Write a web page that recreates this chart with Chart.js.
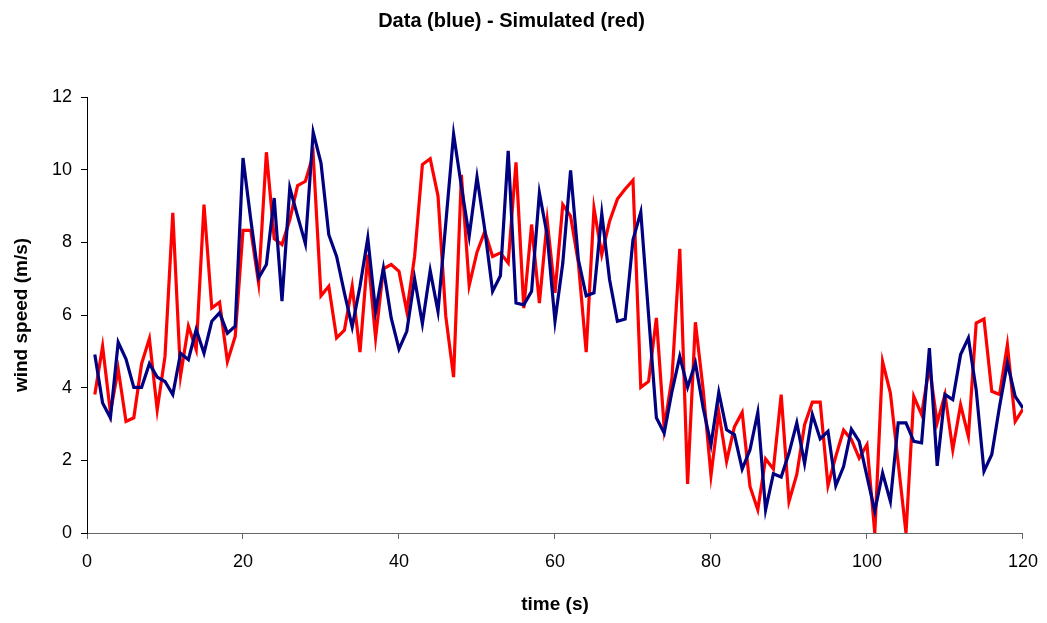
<!DOCTYPE html>
<html>
<head>
<meta charset="utf-8">
<script src="https://cdn.jsdelivr.net/npm/chart.js@4.4.1/dist/chart.umd.min.js"></script>
<style>
  html, body { margin: 0; padding: 0; background: #fff; }
  #wrap { width: 1047px; height: 623px; }
</style>
</head>
<body>
<div id="wrap"><canvas id="viento" width="1047" height="623"></canvas></div>
<script>
// Tiempo (s) de cada muestra
const tiempo = Array.from({length: 120}, (_, i) => i + 1);

// Velocidad medida (azul)
const datosMedidos = [
  4.91, 3.58, 3.17, 5.25, 4.79, 4.01, 4.01, 4.66, 4.29, 4.17,
  3.81, 4.95, 4.77, 5.60, 4.95, 5.83, 6.06, 5.50, 5.69, 10.32,
  8.62, 7.02, 7.39, 9.22, 6.38, 9.50, 8.72, 7.96, 11.03, 10.18,
  8.21, 7.61, 6.61, 5.67, 6.79, 8.12, 6.10, 7.29, 5.92, 5.06,
  5.55, 7.00, 5.76, 7.22, 6.10, 8.53, 10.98, 9.54, 8.17, 9.80,
  8.35, 6.65, 7.08, 10.52, 6.33, 6.28, 6.65, 9.36, 8.20, 5.83,
  7.43, 9.98, 7.52, 6.53, 6.61, 8.79, 6.97, 5.83, 5.89, 8.07,
  8.83, 6.00, 3.17, 2.75, 3.90, 4.86, 4.01, 4.68, 3.44, 2.43,
  3.87, 2.84, 2.71, 1.76, 2.29, 3.32, 0.64, 1.63, 1.54, 2.20,
  3.03, 1.91, 3.26, 2.59, 2.80, 1.30, 1.83, 2.86, 2.52, 1.56,
  0.60, 1.65, 0.87, 3.03, 3.03, 2.52, 2.48, 5.09, 1.85, 3.81,
  3.67, 4.91, 5.37, 3.94, 1.70, 2.16, 3.49, 4.68, 3.76, 3.44
];

// Velocidad simulada (rojo)
const datosSimulados = [
  3.81, 5.14, 3.32, 4.51, 3.07, 3.17, 4.66, 5.35, 3.39, 4.86,
  8.81, 4.33, 5.69, 5.05, 9.04, 6.19, 6.35, 4.72, 5.41, 8.33,
  8.33, 6.88, 10.48, 8.10, 7.94, 8.62, 9.56, 9.68, 10.41, 6.53,
  6.79, 5.37, 5.58, 6.79, 4.98, 7.66, 5.37, 7.27, 7.39, 7.20,
  6.10, 7.61, 10.14, 10.30, 9.28, 5.96, 4.29, 9.86, 6.81, 7.73,
  8.30, 7.61, 7.71, 7.43, 10.20, 6.19, 8.49, 6.33, 8.60, 6.61,
  9.04, 8.72, 7.43, 4.98, 8.94, 7.66, 8.58, 9.19, 9.47, 9.71,
  4.01, 4.17, 5.92, 2.89, 4.27, 7.82, 1.35, 5.80, 3.94, 1.58,
  3.32, 1.97, 2.92, 3.32, 1.28, 0.64, 2.04, 1.76, 3.81, 0.87,
  1.61, 2.98, 3.60, 3.60, 1.30, 2.11, 2.83, 2.57, 2.06, 2.43,
  0.00, 4.72, 3.85, 1.93, 0.00, 3.76, 3.26, 4.59, 3.03, 3.81,
  2.29, 3.53, 2.66, 5.78, 5.89, 3.90, 3.81, 5.18, 3.07, 3.41
];

const FUENTE = 'Arial, "Liberation Sans", sans-serif';

const ctx = document.getElementById('viento').getContext('2d');
const grafico = new Chart(ctx, {
    type: 'line',
    data: {
        labels: tiempo,
        datasets: [{
            label: 'Data',
            data: datosMedidos,
            borderColor: '#000080',
            borderWidth: 3.2,
            pointRadius: 0,
            tension: 0,
            fill: false
        }, {
            label: 'Simulated',
            data: datosSimulados,
            borderColor: '#ff0000',
            borderWidth: 3.2,
            pointRadius: 0,
            tension: 0,
            fill: false
        }]
    },
    options: {
        responsive: false,
        animation: false,
        devicePixelRatio: 1,
        layout: {
            padding: { left: 0, right: 24, top: 0, bottom: 0 }
        },
        plugins: {
            legend: { display: false },
            tooltip: { enabled: false },
            title: {
                display: true,
                text: 'Data (blue) - Simulated (red)',
                color: '#000',
                font: { family: FUENTE, size: 20, weight: 'bold' },
                padding: { top: 9, bottom: 64 }
            }
        },
        scales: {
            x: {
                type: 'linear',
                min: 0,
                max: 120,
                ticks: {
                    stepSize: 20,
                    color: '#000',
                    padding: 9,
                    maxRotation: 0,
                    font: { family: FUENTE, size: 18, lineHeight: 1.6 }
                },
                grid: {
                    drawOnChartArea: false,
                    drawTicks: true,
                    tickLength: 6,
                    color: '#666'
                },
                border: { display: true, color: '#666', width: 1 },
                title: {
                    display: true,
                    text: 'time (s)',
                    color: '#000',
                    font: { family: FUENTE, size: 19, weight: 'bold' },
                    padding: { top: 0, bottom: 7 }
                },
                afterFit: (escala) => { escala.height = 90; }
            },
            y: {
                min: 0,
                max: 12,
                ticks: {
                    stepSize: 2,
                    color: '#000',
                    padding: 9,
                    font: { family: FUENTE, size: 18 }
                },
                grid: {
                    drawOnChartArea: false,
                    drawTicks: true,
                    tickLength: 6,
                    color: '#000'
                },
                border: { display: true, color: '#000', width: 1 },
                title: {
                    display: true,
                    text: 'wind speed (m/s)',
                    color: '#000',
                    font: { family: FUENTE, size: 19, weight: 'bold' },
                    padding: { top: 10, bottom: 0 }
                },
                afterFit: (escala) => { escala.width = 87; }
            }
        }
    }
});
</script>
</body>
</html>
